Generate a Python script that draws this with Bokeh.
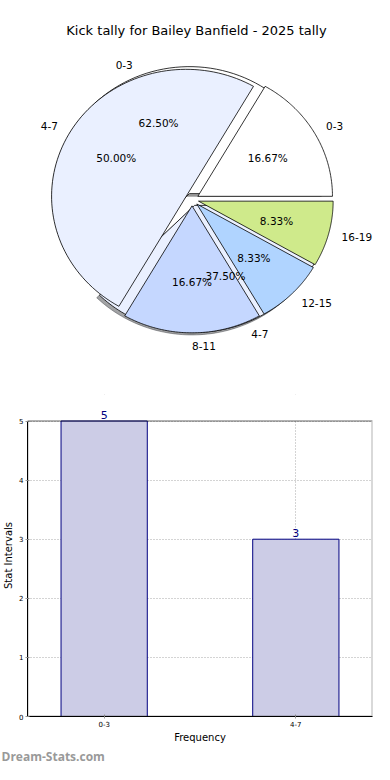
import numpy as np
from bokeh.plotting import figure, column
from bokeh.models import (ColumnDataSource, Label, FixedTicker, Range1d, BoxAnnotation,
                          Title)
from bokeh.core.properties import value
from bokeh.embed import file_html
from bokeh.resources import INLINE

# ---------------- data ----------------
title_text = "Kick tally for Bailey Banfield - 2025 tally"
outer_labels = ["0-3", "4-7"]
outer_values = [5, 3]
outer_colors = ["#ffffff", "#eaf0ff"]
inner_labels = ["0-3", "4-7", "8-11", "12-15", "16-19"]
inner_values = [2, 6, 2, 1, 1]
inner_colors = ["#ffffff", "#eaf0ff", "#c5d7ff", "#b0d4ff", "#cfea8b"]
bar_categories = ["0-3", "4-7"]
bar_counts = [5, 3]
y_ticks = [0, 1, 2, 3, 4, 5]
watermark = "Dream-Stats.com"

FONT = "DejaVu Sans"
EXPLODE = 0.05

# ---------------- layout constants ----------------
BORDER_L, BORDER_R = 26, 2
W = 374
H1, H2 = 372, 392
FRAME_W = W - BORDER_L - BORDER_R


def pie_geometry(values, explode, dx=0.0, dy=0.0, n=90):
    vals = np.asarray(values, dtype=float)
    frac = vals / vals.sum()
    starts = np.concatenate([[0.0], np.cumsum(frac)[:-1]]) * 2 * np.pi
    ends = np.cumsum(frac) * 2 * np.pi
    xs, ys, mids, cxs, cys = [], [], [], [], []
    for a0, a1 in zip(starts, ends):
        mid = (a0 + a1) / 2
        cx = explode * np.cos(mid) + dx
        cy = explode * np.sin(mid) + dy
        t = np.linspace(a0, a1, n)
        xs.append(np.concatenate([[cx], cx + np.cos(t)]).tolist())
        ys.append(np.concatenate([[cy], cy + np.sin(t)]).tolist())
        mids.append(mid)
        cxs.append(cx)
        cys.append(cy)
    return xs, ys, np.array(mids), np.array(cxs), np.array(cys), frac


def text_sources(labels, values, explode):
    _, _, mids, cxs, cys, frac = pie_geometry(values, explode)
    lx = cxs + 1.1 * np.cos(mids)
    ly = cys + 1.1 * np.sin(mids)
    align = ["left" if np.cos(m) > -1e-6 else "right" for m in mids]
    px = cxs + 0.6 * np.cos(mids)
    py = cys + 0.6 * np.sin(mids)
    pct = ["%.2f%%" % (f * 100) for f in frac]
    lab_src = ColumnDataSource(dict(x=lx, y=ly, text=labels, align=align))
    pct_src = ColumnDataSource(dict(x=px, y=py, text=pct))
    return lab_src, pct_src


# ---------------- pie figure ----------------
SX, SY = 135.0, 127.0
CX_IMG, CY_IMG = 191.0, 199.0
cx_f = CX_IMG - BORDER_L
p1 = figure(width=W, height=H1, output_backend="svg", toolbar_location=None,
            title=None, min_border=0, x_axis_location=None, y_axis_location=None,
            x_range=Range1d(-cx_f / SX, (FRAME_W - cx_f) / SX),
            y_range=Range1d(-(H1 - CY_IMG) / SY, CY_IMG / SY))
p1.grid.visible = False
p1.outline_line_color = None

# outer pie shadow
sxs, sys_, _, _, _, _ = pie_geometry(outer_values, EXPLODE, dx=-0.02, dy=-0.02)
shadow_cols = ["#%02x%02x%02x" % tuple(int(0.3 * int(c[i:i + 2], 16)) for i in (1, 3, 5))
               for c in outer_colors]
p1.patches(xs=sxs, ys=sys_, fill_color=shadow_cols, fill_alpha=0.5,
           line_color=shadow_cols, line_alpha=0.5, line_width=1)

# outer pie
oxs, oys, _, _, _, _ = pie_geometry(outer_values, EXPLODE)
p1.patches(xs=oxs, ys=oys, fill_color=outer_colors, line_color="black", line_width=0.8)

# inner pie
ixs, iys, _, _, _, _ = pie_geometry(inner_values, EXPLODE)
p1.patches(xs=ixs, ys=iys, fill_color=inner_colors, line_color="black", line_width=0.8)

for labs, vals in ((outer_labels, outer_values), (inner_labels, inner_values)):
    lab_src, pct_src = text_sources(labs, vals, EXPLODE)
    p1.text(x="x", y="y", text="text", source=lab_src, text_align="align",
            text_baseline="middle", text_font=value(FONT),
            text_font_size="10.5px", text_color="#000000")
    p1.text(x="x", y="y", text="text", source=pct_src, text_align="center",
            text_baseline="middle", text_font=value(FONT),
            text_font_size="10.5px", text_color="#000000")

p1.add_layout(Label(x=195 - BORDER_L, y=H1 - 30, x_units="screen", y_units="screen",
                    text=title_text, text_align="center", text_baseline="middle",
                    text_font=FONT, text_font_size="13px", text_color="#000000"))

# ---------------- bar figure ----------------
TOP_B, BOT_B = 22, 42
FRAME_H = H2 - TOP_B - BOT_B
GAP_TOP = 27  # pixels between frame top and the top of the value axis
y_max = max(y_ticks)
y_end = y_max * FRAME_H / (FRAME_H - GAP_TOP)

xs_idx = list(range(len(bar_categories)))
p2 = figure(width=W, height=H2, output_backend="svg", toolbar_location=None,
            title=None, min_border_top=TOP_B, min_border_bottom=BOT_B,
            min_border_right=BORDER_R, min_border_left=BORDER_L,
            x_range=Range1d(-0.4, len(bar_categories) - 0.6),
            y_range=Range1d(0, y_end))
p2.outline_line_color = None

p2.grid.grid_line_color = "#a8a8a8"
p2.grid.grid_line_dash = "1 2"
p2.grid.grid_line_width = 1

# white area above the value axis top (hides grid there)
p2.add_layout(BoxAnnotation(bottom=y_max, fill_color="white", fill_alpha=1.0,
                            line_color=None, level="underlay"))

src = ColumnDataSource(dict(x=xs_idx, top=bar_counts, cat=bar_categories))
p2.vbar(x="x", top="top", width=0.45, bottom=0, source=src,
        fill_color="#ccccE6", line_color="#000080", line_width=1)

# plot box from 0 to y_max
p2.add_layout(BoxAnnotation(left=p2.x_range.start, right=p2.x_range.end,
                            bottom=0, top=y_max, fill_alpha=0,
                            line_color="black", line_width=2))

p2.xaxis[0].ticker = FixedTicker(ticks=xs_idx)
p2.xaxis[0].major_label_overrides = {i: c for i, c in zip(xs_idx, bar_categories)}
p2.yaxis[0].ticker = FixedTicker(ticks=y_ticks)
p2.yaxis[0].bounds = (0, y_max)
for ax in (p2.xaxis[0], p2.yaxis[0]):
    ax.axis_line_color = "black"
    ax.major_tick_line_color = "#999999"
    ax.major_tick_out = 2
    ax.major_tick_in = 2
    ax.minor_tick_line_color = None
    ax.major_label_text_font = "DejaVu Sans"
    ax.major_label_text_font_size = "7px"
    ax.major_label_text_color = "#000000"
    ax.major_label_standoff = 2
    ax.axis_label_text_font = FONT
    ax.axis_label_text_font_size = "10px"
    ax.axis_label_text_font_style = "normal"
    ax.axis_label_text_color = "#000000"
    ax.axis_label_standoff = 2
p2.xaxis[0].axis_label = "Frequency"
p2.yaxis[0].axis_label = "Stat Intervals"

for xi, cnt in zip(xs_idx, bar_counts):
    p2.add_layout(Label(x=xi, y=cnt, text=str(cnt), text_align="center",
                        text_baseline="bottom", y_offset=2, text_font=FONT,
                        text_font_size="11px", text_color="#000080"))

p2.add_layout(Title(text=watermark, align="left", offset=-BORDER_L, standoff=0,
                    text_font="Open Sans", text_font_size="12px",
                    text_font_style="bold", text_color="#999999"), "below")

layout = column(p1, p2, spacing=0)
open("out.html", "w").write(file_html(layout, INLINE))
